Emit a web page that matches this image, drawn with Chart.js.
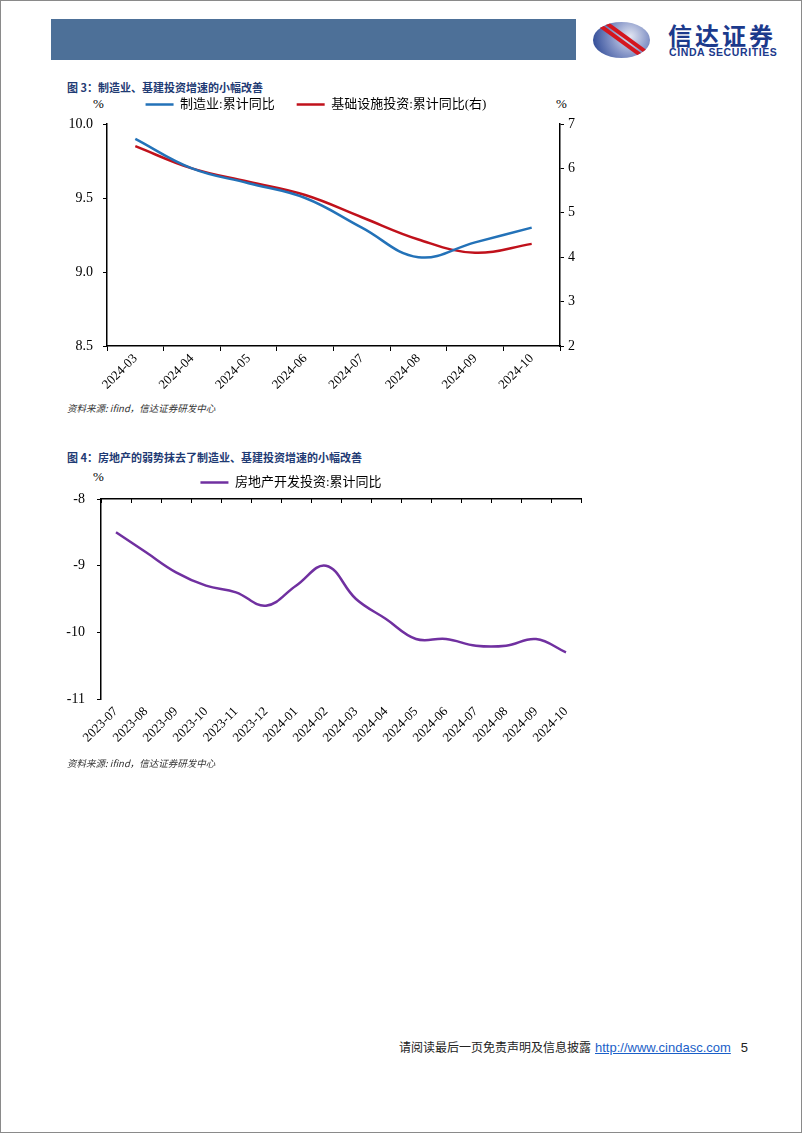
<!DOCTYPE html>
<html>
<head>
<meta charset="utf-8">
<script src="https://cdn.jsdelivr.net/npm/chart.js"></script>
<style>
  body { margin: 0; background: #fff; }
  #page { position: relative; width: 802px; height: 1133px; box-sizing: border-box; border: 1px solid #8a8a8a; overflow: hidden; font-family: "Liberation Serif", "Noto Sans CJK SC", serif; }
  .abs { position: absolute; white-space: nowrap; }
  #bar { left: 50px; top: 18px; width: 525px; height: 41px; background: #4d7098; }
  .title { font-family: "Noto Sans CJK SC", sans-serif; font-weight: bold; font-size: 11px; color: #1f3b74; }
  .unit { font-size: 13px; color: #000; }
  .src { font-family: "Noto Sans CJK SC", sans-serif; font-style: italic; font-size: 9.5px; color: #333; }
  #logo { left: 592px; top: 21px; width: 57px; height: 36px; border-radius: 50%; background: radial-gradient(circle at 65% 40%, #e3e7f3 0%, #8393c6 45%, #1d3b8c 100%); overflow: hidden; }
  #logo div { position: absolute; left: -10px; width: 82px; height: 4px; background: #d4161e; transform: rotate(36deg); }
  #logoCn { left: 667px; top: 22px; line-height: 1; font-family: "Noto Sans CJK SC", sans-serif; font-weight: bold; font-size: 24px; letter-spacing: 3px; color: #1c3a8c; }
  #logoEn { left: 668px; top: 46px; line-height: 1; font-family: "Liberation Sans", Arial, sans-serif; font-weight: bold; font-size: 10.5px; letter-spacing: 0.6px; color: #1c3a8c; }
  #foot { left: 398px; top: 1037px; font-family: "Noto Sans CJK SC", sans-serif; font-size: 12px; color: #222; }
  #foot a { font-family: "Liberation Sans", Arial, sans-serif; font-size: 13px; color: #1a5fc8; margin-left: 4px; }
  #foot span { font-family: "Liberation Sans", Arial, sans-serif; font-size: 13px; margin-left: 10px; }
</style>
</head>
<body>
<div id="page">
  <div id="bar" class="abs"></div>
  <div id="logo" class="abs"><div style="top:12px"></div><div style="top:19px"></div></div>
  <div id="logoCn" class="abs">信达证券</div>
  <div id="logoEn" class="abs">CINDA SECURITIES</div>

  <div class="abs title" style="left:66px; top:78px;">图 3：制造业、基建投资增速的小幅改善</div>
  <div class="abs unit" style="left:92px; top:95px;">%</div>
  <div class="abs unit" style="left:555px; top:95px;">%</div>
  <canvas id="chart1" class="abs" style="left:50px; top:75px;" width="530" height="325"></canvas>
  <div class="abs src" style="left:66px; top:400px;">资料来源: ifind，信达证券研发中心</div>

  <div class="abs title" style="left:66px; top:448px;">图 4：房地产的弱势抹去了制造业、基建投资增速的小幅改善</div>
  <div class="abs unit" style="left:92px; top:468px;">%</div>
  <canvas id="chart2" class="abs" style="left:0px; top:453px;" width="594" height="305"></canvas>
  <div class="abs src" style="left:66px; top:755px;">资料来源: ifind，信达证券研发中心</div>

  <div id="foot" class="abs">请阅读最后一页免责声明及信息披露<a href="#">http://www.cindasc.com</a><span>5</span></div>
</div>
<script>
const months1 = ['2024-03', '2024-04', '2024-05', '2024-06', '2024-07', '2024-08', '2024-09', '2024-10'];
const manufacturing = [9.9, 9.7, 9.6, 9.5, 9.3, 9.1, 9.2, 9.3];
const infrastructure = [6.5, 6.0, 5.7, 5.4, 4.9, 4.4, 4.1, 4.3];

const months2 = ['2023-07', '2023-08', '2023-09', '2023-10', '2023-11', '2023-12', '2024-01', '2024-02',
                 '2024-03', '2024-04', '2024-05', '2024-06', '2024-07', '2024-08', '2024-09', '2024-10'];
const realEstate = [-8.5, -8.8, -9.1, -9.3, -9.4, -9.6, -9.3, -9.0, -9.5, -9.8, -10.1, -10.1, -10.2, -10.2, -10.1, -10.3];

const tickFont = { family: "'Liberation Serif', serif", size: 14 };
const xFont = { family: "'Liberation Serif', serif", size: 13 };
const legendFont = { family: "'Liberation Serif', 'Noto Sans CJK SC', serif", size: 13 };

function legendOpts() {
    return {
        display: true,
        position: 'top',
        labels: {
            color: '#000',
            font: legendFont,
            usePointStyle: true,
            pointStyleWidth: 28,
            padding: 22
        }
    };
}

function lineSet(label, data, color, axis) {
    return {
        label: label,
        data: data,
        yAxisID: axis,
        borderColor: color,
        backgroundColor: color,
        borderWidth: 2.5,
        pointRadius: 0,
        pointStyle: 'line',
        tension: 0.4,
        fill: false
    };
}

let chart1 = new Chart(document.getElementById('chart1'), {
    type: 'line',
    data: {
        labels: months1,
        datasets: [
            lineSet('制造业:累计同比', manufacturing, '#2372b8', 'y'),
            lineSet('基础设施投资:累计同比(右)', infrastructure, '#c0111b', 'y1')
        ]
    },
    options: {
        responsive: false,
        animation: false,
        plugins: { legend: legendOpts(), tooltip: { enabled: false } },
        scales: {
            x: {
                offset: true,
                grid: { offset: true, drawOnChartArea: false, tickLength: 5, color: '#000' },
                border: { color: '#000', width: 1.5 },
                ticks: { color: '#000', font: xFont, minRotation: 45, maxRotation: 45, padding: 0 },
                afterFit: (s) => { s.height = 55; }
            },
            // empty top axis, only keeps a little room under the legend
            gap: {
                position: 'top',
                type: 'category',
                labels: months1,
                grid: { display: false },
                border: { display: false },
                ticks: { display: false },
                afterFit: (s) => { s.height = 3; }
            },
            y: {
                position: 'left',
                min: 8.5, max: 10.0,
                grid: { drawOnChartArea: false, tickLength: 4, color: '#000' },
                border: { color: '#000', width: 1.5 },
                ticks: { stepSize: 0.5, color: '#000', font: tickFont, padding: 10, callback: (v) => v.toFixed(1) },
                afterFit: (s) => { s.width = 56; }
            },
            y1: {
                position: 'right',
                min: 2, max: 7,
                grid: { drawOnChartArea: false, tickLength: 4, color: '#000' },
                border: { color: '#000', width: 1.5 },
                ticks: { stepSize: 1, color: '#000', font: tickFont, padding: 4 },
                afterFit: (s) => { s.width = 21; }
            }
        }
    }
});

let chart2 = new Chart(document.getElementById('chart2'), {
    type: 'line',
    data: {
        labels: months2,
        datasets: [
            lineSet('房地产开发投资:累计同比', realEstate, '#7030a0', 'y')
        ]
    },
    options: {
        responsive: false,
        animation: false,
        layout: { padding: { right: 14 } },
        plugins: { legend: legendOpts(), tooltip: { enabled: false } },
        scales: {
            x: {
                position: 'bottom',
                offset: true,
                grid: { display: false },
                border: { display: false },
                ticks: { color: '#000', font: xFont, minRotation: 45, maxRotation: 45, padding: -3 },
                afterFit: (s) => { s.height = 60; }
            },
            xTop: {
                position: 'top',
                type: 'category',
                labels: months2,
                offset: true,
                grid: { offset: true, drawOnChartArea: false, tickLength: -4, color: '#000' },
                border: { color: '#000', width: 1.5 },
                ticks: { display: false },
                afterFit: (s) => { s.height = 0; }
            },
            y: {
                min: -11, max: -8,
                grid: { drawOnChartArea: false, tickLength: 4, color: '#000' },
                border: { color: '#000', width: 1.5 },
                ticks: { stepSize: 1, color: '#000', font: tickFont, padding: 12 },
                afterFit: (s) => { s.width = 100; }
            }
        }
    }
});
</script>
</body>
</html>
